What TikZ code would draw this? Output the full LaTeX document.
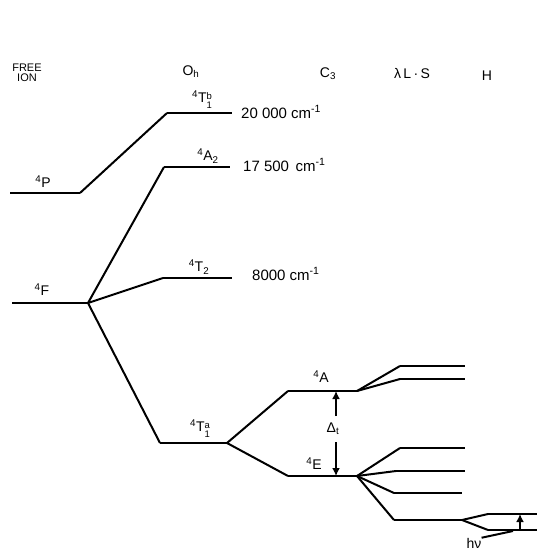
\documentclass[tikz,border=0pt]{standalone}
\usepackage{fontspec}
\setmainfont{Liberation Sans}
\usetikzlibrary{arrows.meta}
\newcommand{\ssub}[2]{\raisebox{-6pt}{\fontsize{9.5}{12}\selectfont\shortstack[l]{#2\\#1}}}
\begin{document}
\begin{tikzpicture}[x=1pt,y=-1pt,
  lvl/.style={line width=2.5pt},
  conn/.style={line width=2pt, line join=round},
  lab/.style={font=\fontsize{14}{15}\selectfont, inner sep=0pt},
  hdr/.style={font=\fontsize{14}{14}\selectfont, inner sep=0pt, align=center},
  en/.style={font=\fontsize{15}{15}\selectfont, inner sep=0pt, anchor=west},
  arr/.style={line width=2pt, -{Latex[length=8pt,width=8pt]}}]
\useasboundingbox (0,0) rectangle (537,552);
% headers
\node[hdr, font=\fontsize{11}{10}\selectfont] (hfree) at (27,73) {FREE\\ION};
\node[hdr] (hoh) at (191,72) {O\textsubscript{h}};
\node[hdr] (hc3) at (328,74) {C\textsubscript{3}};
\node[hdr] (hls) at (412,73) {λ\,L\,·\,S};
\node[hdr] (hh) at (487,76) {H};
% coordinates
\coordinate (P1) at (10,193); \coordinate (P2) at (80,193);
\coordinate (Tb1) at (167,113); \coordinate (Tb2) at (232,113);
\coordinate (F1) at (12,303); \coordinate (F2) at (88,303);
\coordinate (A21) at (164,167); \coordinate (A22) at (230,167);
\coordinate (T21) at (163,278); \coordinate (T22) at (232,278);
\coordinate (Ta1) at (160,443); \coordinate (Ta2) at (227,443);
\coordinate (A1) at (288,391); \coordinate (A2) at (357,391);
\coordinate (E1) at (288,476); \coordinate (E2) at (357,476);
\coordinate (a1a) at (400,366); \coordinate (a1b) at (465,366);
\coordinate (a2a) at (400,379); \coordinate (a2b) at (465,379);
\coordinate (e1a) at (400,448); \coordinate (e1b) at (465,448);
\coordinate (e2a) at (396,471); \coordinate (e2b) at (465,471);
\coordinate (e3a) at (394,493); \coordinate (e3b) at (462,493);
\coordinate (e4a) at (394,520); \coordinate (e4b) at (462,520);
\coordinate (h1a) at (488,514); \coordinate (h1b) at (537,514);
\coordinate (h2a) at (488,530); \coordinate (h2b) at (537,530);
% levels
\foreach \a/\b in {P1/P2,Tb1/Tb2,F1/F2,A21/A22,T21/T22,Ta1/Ta2,A1/A2,E1/E2,a1a/a1b,a2a/a2b,e1a/e1b,e2a/e2b,e3a/e3b,e4a/e4b,h1a/h1b,h2a/h2b}
  \draw[lvl] (\a) -- (\b);
% connectors
\foreach \a/\b in {P2/Tb1,F2/A21,F2/T21,F2/Ta1,Ta2/A1,Ta2/E1,A2/a1a,A2/a2a,E2/e1a,E2/e2a,E2/e3a,E2/e4a,e4b/h1a,e4b/h2a}
  \draw[conn] (\a) -- (\b);
% level labels
\node[lab] (lP) at (43,182) {\textsuperscript{4}P};
\node[lab] (lTb) at (202,100) {\textsuperscript{4}T\ssub{1}{b}};
\node[lab] (lA2) at (208,156) {\textsuperscript{4}A\textsubscript{2}};
\node[lab] (lT2) at (199,267) {\textsuperscript{4}T\textsubscript{2}};
\node[lab] (lF) at (42,290) {\textsuperscript{4}F};
\node[lab] (lTa) at (200,429) {\textsuperscript{4}T\ssub{1}{a}};
\node[lab] (lA) at (321,377) {\textsuperscript{4}A};
\node[lab] (lE) at (314,464) {\textsuperscript{4}E};
% energies
\node[en] (en1) at (241,112) {20 000 cm\textsuperscript{-1}};
\node[en] (en2) at (243,165) {17 500\, cm\textsuperscript{-1}};
\node[en] (en3) at (252,274) {8000 cm\textsuperscript{-1}};
% Delta_t
\node[lab] (dt) at (333,429) {Δ\textsubscript{t}};
\coordinate (dA) at (336,391); \coordinate (dE) at (336,476);
\coordinate (dtu) at (336,416); \coordinate (dtd) at (336,442);
\draw[arr] (dtu) -- (dA);
\draw[arr] (dtd) -- (dE);
% h nu
\coordinate (hA) at (520,514); \coordinate (hB) at (520,530);
\draw[arr] (hB) -- (hA);
\node[lab] (hnu) at (474,543) {hν};
\coordinate (hnuend) at (513,531);
\draw[conn] (hnu.north east) -- (hnuend);
\end{tikzpicture}
\end{document}
